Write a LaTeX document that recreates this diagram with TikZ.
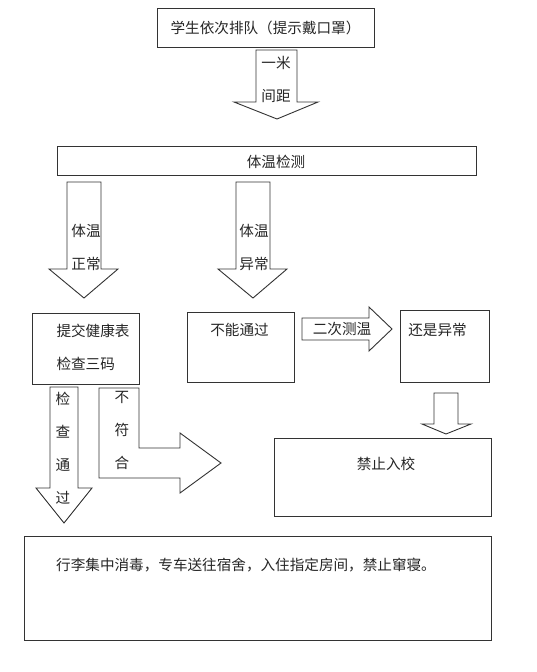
\documentclass[tikz,border=0pt]{standalone}
\usepackage{fontspec}
\newfontfamily\cjk{Noto Sans CJK SC}

\begin{document}
\begin{tikzpicture}[x=1pt, y=-1pt,
  box/.style={draw=black!80, line width=0.9pt, inner sep=0pt},
  blockarrow/.style={draw=black!80, line width=0.9pt, line join=miter},
  txt/.style={font=\cjk\fontsize{14.6}{33}\selectfont, text=black!85, inner sep=0pt, align=center}]

  \fill[white] (0,0) rectangle (536,672);
  \useasboundingbox (0,0) rectangle (536,672);

  % boxes
  \node[box, txt, minimum width=217pt, minimum height=39pt] (queue) at (265.5, 27.5) {学生依次排队（提示戴口罩）};
  \node[box, minimum width=419pt, minimum height=29pt] (temp)   at (266.5, 160.5) {};
  \node[box, minimum width=107pt, minimum height=71pt] (health) at ( 85.5, 348.5) {};
  \node[box, minimum width=107pt, minimum height=70pt] (fail)   at (240.5, 347)   {};
  \node[box, minimum width=89pt,  minimum height=72pt] (still)  at (444.5, 346)   {};
  \node[box, minimum width=217pt, minimum height=78pt] (ban)    at (382.5, 477)   {};
  \node[box, minimum width=467pt, minimum height=104pt] (final) at (257.5, 588)   {};

  % block arrows
  \draw[blockarrow] (256,50) -- (297,50) -- (297,102) -- (318,102) -- (277,119) -- (234,102) -- (256,102) -- cycle;
  \draw[blockarrow] (67,182) -- (101,182) -- (101,269) -- (118,269) -- (84,298) -- (49,269) -- (67,269) -- cycle;
  \draw[blockarrow] (236,182) -- (270,182) -- (270,269) -- (287,269) -- (253,298) -- (218,269) -- (236,269) -- cycle;
  \draw[blockarrow] (302,318) -- (369,318) -- (369,307) -- (392,329) -- (369,351) -- (369,340) -- (302,340) -- cycle;
  \draw[blockarrow] (434,393) -- (458,393) -- (458,424) -- (471,424) -- (446,434) -- (422,424) -- (434,424) -- cycle;
  \draw[blockarrow] (50,387) -- (78,387) -- (78,488) -- (92,488) -- (64,523) -- (36,488) -- (50,488) -- cycle;
  \draw[blockarrow] (99,388) -- (139,388) -- (139,448) -- (180,448) -- (180,433) -- (221,463)
                    -- (180,493) -- (180,478) -- (99,478) -- cycle;

  % labels
  \node[txt] (gap)       at (276, 79.5)  {一米\\间距};
  \node[txt] (temptxt)   at (276, 162)   {体温检测};
  \node[txt] (normal)    at (86, 247)    {体温\\正常};
  \node[txt] (abnormal)  at (254, 247)   {体温\\异常};
  \node[txt, align=left] (healthtxt) at (93, 347.5) {提交健康表\\检查三码};
  \node[txt] (failtxt)   at (239.5, 330) {不能通过};
  \node[txt] (retest)    at (342, 329)   {二次测温};
  \node[txt] (stilltxt)  at (437.5, 330) {还是异常};
  \node[txt] (bantxt)    at (386, 464)   {禁止入校};
  \node[txt] (pass)      at (63, 448)    {检\\查\\通\\过};
  \node[txt] (reject)    at (122, 430)   {不\\符\\合};
  \node[txt, anchor=west] (finaltxt) at (56, 565) {行李集中消毒，专车送往宿舍，入住指定房间，禁止窜寝。};

\end{tikzpicture}
\end{document}
